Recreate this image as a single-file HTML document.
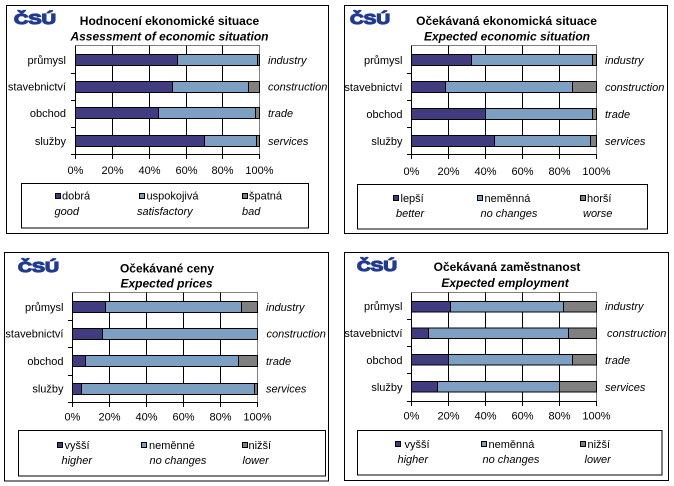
<!DOCTYPE html>
<html><head><meta charset="utf-8"><style>
html,body{margin:0;padding:0;background:#fff;}
svg{display:block;}
text{font-family:"Liberation Sans",Arial,sans-serif;fill:#000;}
.t{font-size:12px;font-weight:bold;}
.ti{font-size:12px;font-weight:bold;font-style:italic;}
.l{font-size:11px;}
.li{font-size:11px;font-style:italic;}
.logo{font-size:15px;font-weight:bold;fill:#213b8f;stroke:#213b8f;stroke-width:1.2;}
.d{fill:#403c7f;stroke:#000;stroke-width:1;}
.b{fill:#7c9fc2;stroke:#000;stroke-width:1;}
.g{fill:#808080;stroke:#000;stroke-width:1;}
.box{fill:none;stroke:#000;stroke-width:1;}
.ax{stroke:#000;stroke-width:1;fill:none;}
.pb{stroke:#808080;stroke-width:1;fill:none;}
.sw{stroke:#000;stroke-width:1;}
</style></head><body>
<svg width="674" height="486" viewBox="0 0 674 486" xmlns="http://www.w3.org/2000/svg">

<!-- ============ TOP LEFT ============ -->
<rect class="box" x="6.5" y="5.5" width="322" height="228"/>
<text class="logo" x="14" y="24" textLength="42" lengthAdjust="spacingAndGlyphs">ČSÚ</text>
<text class="t" x="169.5" y="25" text-anchor="middle">Hodnocení  ekonomické situace</text>
<text class="ti" x="169.5" y="40.5" text-anchor="middle">Assessment of economic situation</text>
<path class="pb" d="M75.5 45.5 H259.5 V154"/>
<path class="ax" d="M112.5 45.5V154 M149.5 45.5V154 M186.5 45.5V154 M222.5 45.5V154"/>
<rect class="d" x="75.5" y="54.5" width="102" height="11"/><rect class="b" x="177.5" y="54.5" width="80" height="11"/><rect class="g" x="257.5" y="54.5" width="2" height="11"/>
<rect class="d" x="75.5" y="81.5" width="97" height="11"/><rect class="b" x="172.5" y="81.5" width="76" height="11"/><rect class="g" x="248.5" y="81.5" width="11" height="11"/>
<rect class="d" x="75.5" y="107.5" width="83" height="11"/><rect class="b" x="158.5" y="107.5" width="97" height="11"/><rect class="g" x="255.5" y="107.5" width="4" height="11"/>
<rect class="d" x="75.5" y="135.5" width="129" height="11"/><rect class="b" x="204.5" y="135.5" width="52" height="11"/><rect class="g" x="256.5" y="135.5" width="3" height="11"/>
<path class="ax" d="M75.5 45.5V154.5 M75 154.5H260 M71 73.5H75.5 M71 100.5H75.5 M71 127.5H75.5 M71 154.5H75.5 M75.5 154.5V159 M112.5 154.5V159 M149.5 154.5V159 M186.5 154.5V159 M222.5 154.5V159 M259.5 154.5V159"/>
<text class="l" x="66" y="64" text-anchor="end">průmysl</text>
<text class="l" x="66" y="90.5" text-anchor="end">stavebnictví</text>
<text class="l" x="66" y="117" text-anchor="end">obchod</text>
<text class="l" x="66" y="145" text-anchor="end">služby</text>
<text class="li" x="268" y="64">industry</text>
<text class="li" x="268" y="90.5">construction</text>
<text class="li" x="268" y="117">trade</text>
<text class="li" x="268" y="145">services</text>
<text class="l" x="75.5" y="174" text-anchor="middle">0%</text><text class="l" x="112.5" y="174" text-anchor="middle">20%</text><text class="l" x="149.5" y="174" text-anchor="middle">40%</text><text class="l" x="186.5" y="174" text-anchor="middle">60%</text><text class="l" x="222.5" y="174" text-anchor="middle">80%</text><text class="l" x="259.5" y="174" text-anchor="middle">100%</text>
<rect class="box" x="21.5" y="183.5" width="287" height="44.5"/>
<rect class="sw" x="55.5" y="193.5" width="5" height="5" fill="#403c7f"/><text class="l" x="62" y="199.5">dobrá</text>
<text class="li" x="54.5" y="215">good</text>
<rect class="sw" x="139.5" y="193.5" width="5" height="5" fill="#7c9fc2"/><text class="l" x="146.5" y="199.5">uspokojivá</text>
<text class="li" x="137" y="215">satisfactory</text>
<rect class="sw" x="242.5" y="193.5" width="5" height="5" fill="#808080"/><text class="l" x="249" y="199.5">špatná</text>
<text class="li" x="242" y="215">bad</text>

<!-- ============ TOP RIGHT ============ -->
<rect class="box" x="344.5" y="5.5" width="323" height="228"/>
<text class="logo" x="350" y="24" textLength="40" lengthAdjust="spacingAndGlyphs">ČSÚ</text>
<text class="t" x="506.5" y="25" text-anchor="middle">Očekávaná  ekonomická situace</text>
<text class="ti" x="507" y="40.5" text-anchor="middle">Expected economic situation</text>
<path class="pb" d="M411.5 45.5 H596.5 V154"/>
<path class="ax" d="M448.5 45.5V154 M485.5 45.5V154 M522.5 45.5V154 M559.5 45.5V154"/>
<rect class="d" x="411.5" y="54.5" width="60" height="11"/><rect class="b" x="471.5" y="54.5" width="121" height="11"/><rect class="g" x="592.5" y="54.5" width="4" height="11"/>
<rect class="d" x="411.5" y="81.5" width="34" height="11"/><rect class="b" x="445.5" y="81.5" width="127" height="11"/><rect class="g" x="572.5" y="81.5" width="24" height="11"/>
<rect class="d" x="411.5" y="108.5" width="74" height="11"/><rect class="b" x="485.5" y="108.5" width="107" height="11"/><rect class="g" x="592.5" y="108.5" width="4" height="11"/>
<rect class="d" x="411.5" y="135.5" width="83" height="11"/><rect class="b" x="494.5" y="135.5" width="96" height="11"/><rect class="g" x="590.5" y="135.5" width="6" height="11"/>
<path class="ax" d="M411.5 45.5V154.5 M411 154.5H597 M407 73.5H411.5 M407 100.5H411.5 M407 127.5H411.5 M407 154.5H411.5 M411.5 154.5V159 M448.5 154.5V159 M485.5 154.5V159 M522.5 154.5V159 M559.5 154.5V159 M596.5 154.5V159"/>
<text class="l" x="402.5" y="64" text-anchor="end">průmysl</text>
<text class="l" x="402.5" y="91" text-anchor="end">stavebnictví</text>
<text class="l" x="402.5" y="118" text-anchor="end">obchod</text>
<text class="l" x="402.5" y="145" text-anchor="end">služby</text>
<text class="li" x="605" y="64">industry</text>
<text class="li" x="605" y="91">construction</text>
<text class="li" x="605" y="118">trade</text>
<text class="li" x="605" y="145">services</text>
<text class="l" x="411.5" y="175" text-anchor="middle">0%</text><text class="l" x="448.5" y="175" text-anchor="middle">20%</text><text class="l" x="485.5" y="175" text-anchor="middle">40%</text><text class="l" x="522.5" y="175" text-anchor="middle">60%</text><text class="l" x="559.5" y="175" text-anchor="middle">80%</text><text class="l" x="596.5" y="175" text-anchor="middle">100%</text>
<rect class="box" x="357.5" y="184.5" width="290" height="44.5"/>
<rect class="sw" x="393.5" y="195.5" width="5" height="5" fill="#403c7f"/><text class="l" x="400.5" y="202">lepší</text>
<text class="li" x="396" y="217">better</text>
<rect class="sw" x="477.5" y="195.5" width="5" height="5" fill="#7c9fc2"/><text class="l" x="484.5" y="202">neměnná</text>
<text class="li" x="480.5" y="217">no changes</text>
<rect class="sw" x="580.5" y="195.5" width="5" height="5" fill="#808080"/><text class="l" x="587" y="202">horší</text>
<text class="li" x="583" y="217">worse</text>

<!-- ============ BOTTOM LEFT ============ -->
<rect class="box" x="4.5" y="252.5" width="324" height="228.5"/>
<text class="logo" x="18" y="272" textLength="41" lengthAdjust="spacingAndGlyphs">ČSÚ</text>
<text class="t" x="167" y="272.5" text-anchor="middle">Očekávané ceny</text>
<text class="ti" x="166.5" y="287.5" text-anchor="middle">Expected prices</text>
<path class="pb" d="M72.5 292.5 H257.5 V402"/>
<path class="ax" d="M109.5 292.5V402 M146.5 292.5V402 M183.5 292.5V402 M220.5 292.5V402"/>
<rect class="d" x="72.5" y="301.5" width="33" height="11"/><rect class="b" x="105.5" y="301.5" width="136" height="11"/><rect class="g" x="241.5" y="301.5" width="16" height="11"/>
<rect class="d" x="72.5" y="328.5" width="30" height="11"/><rect class="b" x="102.5" y="328.5" width="155" height="11"/>
<rect class="d" x="72.5" y="355.5" width="13" height="11"/><rect class="b" x="85.5" y="355.5" width="153" height="11"/><rect class="g" x="238.5" y="355.5" width="19" height="11"/>
<rect class="d" x="72.5" y="383.5" width="9" height="11"/><rect class="b" x="81.5" y="383.5" width="173" height="11"/><rect class="g" x="254.5" y="383.5" width="3" height="11"/>
<path class="ax" d="M72.5 292.5V402.5 M72 402.5H258 M68 320.5H72.5 M68 347.5H72.5 M68 375.5H72.5 M68 402.5H72.5 M72.5 402.5V407 M109.5 402.5V407 M146.5 402.5V407 M183.5 402.5V407 M220.5 402.5V407 M257.5 402.5V407"/>
<text class="l" x="63.5" y="311" text-anchor="end">průmysl</text>
<text class="l" x="63.5" y="337.5" text-anchor="end">stavebnictví</text>
<text class="l" x="63.5" y="365" text-anchor="end">obchod</text>
<text class="l" x="63.5" y="392.5" text-anchor="end">služby</text>
<text class="li" x="266" y="311">industry</text>
<text class="li" x="266.5" y="337.5">construction</text>
<text class="li" x="266" y="365">trade</text>
<text class="li" x="266" y="392.5">services</text>
<text class="l" x="72.5" y="420.5" text-anchor="middle">0%</text><text class="l" x="109.5" y="420.5" text-anchor="middle">20%</text><text class="l" x="146.5" y="420.5" text-anchor="middle">40%</text><text class="l" x="183.5" y="420.5" text-anchor="middle">60%</text><text class="l" x="220.5" y="420.5" text-anchor="middle">80%</text><text class="l" x="257.5" y="420.5" text-anchor="middle">100%</text>
<rect class="box" x="18.5" y="430.5" width="307" height="45.5"/>
<rect class="sw" x="57.5" y="442.5" width="5" height="5" fill="#403c7f"/><text class="l" x="64.5" y="449">vyšší</text>
<text class="li" x="61.5" y="464">higher</text>
<rect class="sw" x="141.5" y="442.5" width="5" height="5" fill="#7c9fc2"/><text class="l" x="149" y="449">neměnné</text>
<text class="li" x="149.5" y="464">no changes</text>
<rect class="sw" x="242.5" y="442.5" width="5" height="5" fill="#808080"/><text class="l" x="248.5" y="449">nižší</text>
<text class="li" x="242.5" y="464">lower</text>

<!-- ============ BOTTOM RIGHT ============ -->
<rect class="box" x="344.5" y="252.5" width="324" height="228"/>
<text class="logo" x="357" y="271" textLength="40" lengthAdjust="spacingAndGlyphs">ČSÚ</text>
<text class="t" x="507" y="271" text-anchor="middle">Očekávaná zaměstnanost</text>
<text class="ti" x="505" y="287" text-anchor="middle">Expected employment</text>
<path class="pb" d="M411.5 292.5 H596.5 V401"/>
<path class="ax" d="M448.5 292.5V401 M485.5 292.5V401 M522.5 292.5V401 M559.5 292.5V401"/>
<rect class="d" x="411.5" y="301.5" width="39" height="10.5"/><rect class="b" x="450.5" y="301.5" width="113" height="10.5"/><rect class="g" x="563.5" y="301.5" width="33" height="10.5"/>
<rect class="d" x="411.5" y="328" width="17" height="10.5"/><rect class="b" x="428.5" y="328" width="140" height="10.5"/><rect class="g" x="568.5" y="328" width="28" height="10.5"/>
<rect class="d" x="411.5" y="354.5" width="37" height="10.5"/><rect class="b" x="448.5" y="354.5" width="124" height="10.5"/><rect class="g" x="572.5" y="354.5" width="24" height="10.5"/>
<rect class="d" x="411.5" y="381.5" width="26" height="10.5"/><rect class="b" x="437.5" y="381.5" width="122" height="10.5"/><rect class="g" x="559.5" y="381.5" width="37" height="10.5"/>
<path class="ax" d="M411.5 292.5V401.5 M411 401.5H597 M407 319.5H411.5 M407 346.5H411.5 M407 373.5H411.5 M407 401.5H411.5 M411.5 401.5V406 M448.5 401.5V406 M485.5 401.5V406 M522.5 401.5V406 M559.5 401.5V406 M596.5 401.5V406"/>
<text class="l" x="402.5" y="310" text-anchor="end">průmysl</text>
<text class="l" x="402.5" y="337" text-anchor="end">stavebnictví</text>
<text class="l" x="402.5" y="364" text-anchor="end">obchod</text>
<text class="l" x="402.5" y="391" text-anchor="end">služby</text>
<text class="li" x="605" y="310">industry</text>
<text class="li" x="607" y="337">construction</text>
<text class="li" x="605" y="364">trade</text>
<text class="li" x="605" y="391">services</text>
<text class="l" x="411.5" y="419.5" text-anchor="middle">0%</text><text class="l" x="448.5" y="419.5" text-anchor="middle">20%</text><text class="l" x="485.5" y="419.5" text-anchor="middle">40%</text><text class="l" x="522.5" y="419.5" text-anchor="middle">60%</text><text class="l" x="559.5" y="419.5" text-anchor="middle">80%</text><text class="l" x="596.5" y="419.5" text-anchor="middle">100%</text>
<rect class="box" x="357.5" y="430.5" width="304.5" height="44.5"/>
<rect class="sw" x="395.5" y="441.5" width="5" height="5" fill="#403c7f"/><text class="l" x="404.5" y="448">vyšší</text>
<text class="li" x="397.5" y="463">higher</text>
<rect class="sw" x="481.5" y="441.5" width="5" height="5" fill="#7c9fc2"/><text class="l" x="488.5" y="448">neměnná</text>
<text class="li" x="482.5" y="463">no changes</text>
<rect class="sw" x="580.5" y="441.5" width="5" height="5" fill="#808080"/><text class="l" x="587.5" y="448">nižší</text>
<text class="li" x="584.5" y="463">lower</text>

</svg>
</body></html>
